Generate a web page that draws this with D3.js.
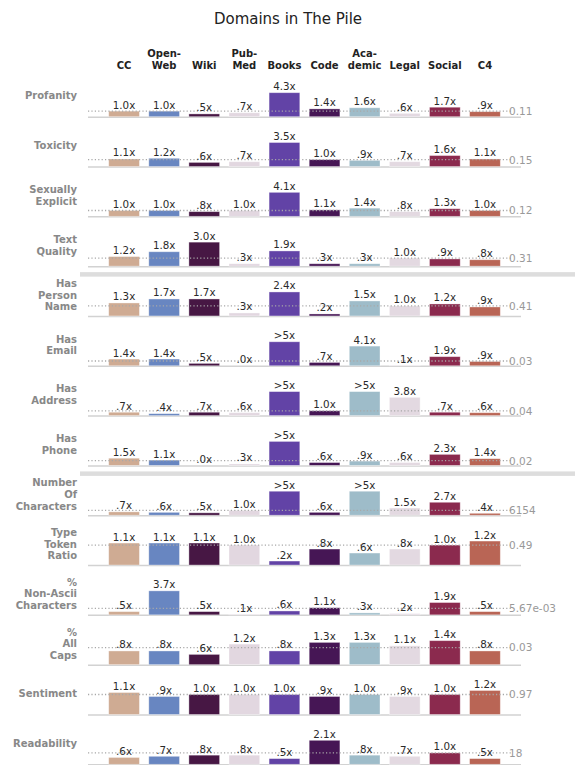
<!DOCTYPE html>
<html>
<head>
<meta charset="utf-8">
<script src="https://cdn.jsdelivr.net/npm/d3@7"></script>
<style>
  body { margin: 0; background: #fff; }
  svg { font-family: "DejaVu Sans", sans-serif; }
</style>
</head>
<body>
<svg id="chart" width="575" height="765"></svg>
<script>
// columns (two-line headers split on the newline)
var domains = ["CC", "Open-\nWeb", "Wiki", "Pub-\nMed", "Books", "Code", "Aca-\ndemic", "Legal", "Social", "C4"];
var domainColors = ["#cfab93", "#6886c1", "#471744", "#e2d7e0", "#6243a6", "#461655", "#9ebcc9", "#e3d9e1", "#8b2a4e", "#b96555"];

var metrics = ["Profanity", "Toxicity", "Sexually\nExplicit", "Text\nQuality",
  "Has\nPerson\nName", "Has\nEmail", "Has\nAddress", "Has\nPhone",
  "Number\nOf\nCharacters", "Type\nToken\nRatio", "%\nNon-Ascii\nCharacters", "%\nAll\nCaps",
  "Sentiment", "Readability"];

// reference value of the whole pile (right side)
var baseLabels = ["0.11", "0.15", "0.12", "0.31", "0.41", "0.03", "0.04", "0.02", "6154", "0.49", "5.67e-03", "0.03", "0.97", "18"];

// ratio of each domain vs. the pile, one array per metric. values above 5 are shown as >5x
var profanity = [1.0, 1.0, 0.5, 0.7, 4.3, 1.4, 1.6, 0.6, 1.7, 0.9];
var toxicity = [1.1, 1.2, 0.6, 0.7, 3.5, 1.0, 0.9, 0.7, 1.6, 1.1];
var sexuallyExplicit = [1.0, 1.0, 0.8, 1.0, 4.1, 1.1, 1.4, 0.8, 1.3, 1.0];
var textQuality = [1.2, 1.8, 3.0, 0.3, 1.9, 0.3, 0.3, 1.0, 0.9, 0.8];
var hasPersonName = [1.3, 1.7, 1.7, 0.3, 2.4, 0.2, 1.5, 1.0, 1.2, 0.9];
var hasEmail = [1.4, 1.4, 0.5, 0.0, 6.0, 0.7, 4.1, 0.1, 1.9, 0.9];
var hasAddress = [0.7, 0.4, 0.7, 0.6, 6.0, 1.0, 6.0, 3.8, 0.7, 0.6];
var hasPhone = [1.5, 1.1, 0.0, 0.3, 6.0, 0.6, 0.9, 0.6, 2.3, 1.4];
var numChars = [0.7, 0.6, 0.5, 1.0, 6.0, 0.6, 6.0, 1.5, 2.7, 0.4];
var typeToken = [1.1, 1.1, 1.1, 1.0, 0.2, 0.8, 0.6, 0.8, 1.0, 1.2];
var nonAscii = [0.5, 3.7, 0.5, 0.1, 0.6, 1.1, 0.3, 0.2, 1.9, 0.5];
var allCaps = [0.8, 0.8, 0.6, 1.2, 0.8, 1.3, 1.3, 1.1, 1.4, 0.8];
var sentiment = [1.1, 0.9, 1.0, 1.0, 1.0, 0.9, 1.0, 0.9, 1.0, 1.2];
var readability = [0.6, 0.7, 0.8, 0.8, 0.5, 2.1, 0.8, 0.7, 1.0, 0.5];

var ratios = [profanity, toxicity, sexuallyExplicit, textQuality, hasPersonName, hasEmail,
  hasAddress, hasPhone, numChars, typeToken, nonAscii, allCaps, sentiment, readability];

// group breaks come after these rows
var groupEnds = [3, 7];

var CAP = 5;
var svg = d3.select('#chart');

var x = d3.scaleBand()
  .domain(d3.range(domains.length))
  .range([104, 505])
  .paddingInner(0.234)
  .paddingOuter(0.117);

var rowY = d3.scaleLinear().domain([0, metrics.length - 1]).range([116.7, 764.3]);

function fmt(v){
  if (v > CAP) return '>5x';
  var s = v.toFixed(1);
  if (s.charAt(0) === '0') s = s.substring(1);
  return s + 'x';
}

// title
svg.append('text')
  .attr('x', 288)
  .attr('y', 24)
  .attr('text-anchor', 'middle')
  .attr('font-size', 15)
  .attr('fill', '#222')
  .text('Domains in The Pile');

// column headers
var head = svg.append('g');
domains.forEach(function(d, i){
  var lines = d.split('\n');
  var t = head.append('text')
    .attr('text-anchor', 'middle')
    .attr('font-size', 10)
    .attr('font-weight', 'bold')
    .attr('fill', '#222');
  lines.forEach(function(l, k){
    t.append('tspan')
      .attr('x', x(i) + x.bandwidth() / 2)
      .attr('y', 69.3 - (lines.length - 1 - k) * 12)
      .text(l);
  });
});

// separators between the groups
groupEnds.forEach(function(r){
  svg.append('rect')
    .attr('x', 80)
    .attr('y', rowY(r) + 6)
    .attr('width', 495)
    .attr('height', 4.5)
    .attr('fill', '#dddddd');
});

metrics.forEach(function(m, r){
  var vals = ratios[r];
  var base = rowY(r);
  var top = Math.min(d3.max(vals), CAP);
  var h = d3.scaleLinear().domain([0, top]).range([0, 24]);
  var g = svg.append('g');

  // row label
  var lines = m.split('\n');
  var lab = g.append('text')
    .attr('text-anchor', 'end')
    .attr('font-size', 10)
    .attr('font-weight', 'bold')
    .attr('fill', '#888');
  lines.forEach(function(l, k){
    lab.append('tspan')
      .attr('x', 77)
      .attr('y', base - 21 + 3.6 + (k - (lines.length - 1) / 2) * 11.7)
      .text(l);
  });

  // baseline
  g.append('line')
    .attr('x1', 88).attr('x2', 521)
    .attr('y1', base + 0.5).attr('y2', base + 0.5)
    .attr('stroke', '#d2d2d2')
    .attr('stroke-width', 1.5);

  // bars
  g.selectAll('rect.bar')
    .data(vals)
    .enter()
    .append('rect')
    .attr('class', 'bar')
    .attr('x', function(d, i){ return x(i); })
    .attr('width', x.bandwidth())
    .attr('y', function(d){ return base - h(Math.min(d, CAP)); })
    .attr('height', function(d){ return h(Math.min(d, CAP)); })
    .attr('fill', function(d, i){ return domainColors[i]; })
    .attr('stroke', 'rgba(255,255,255,0.45)')
    .attr('stroke-width', 0.8);

  // reference line at 1.0x
  g.append('line')
    .attr('x1', 88).attr('x2', 511)
    .attr('y1', base - h(1)).attr('y2', base - h(1))
    .attr('stroke', '#a8a8a8')
    .attr('stroke-width', 1.3)
    .attr('stroke-dasharray', '1.2,2.2');

  // value labels
  g.selectAll('text.val')
    .data(vals)
    .enter()
    .append('text')
    .attr('class', 'val')
    .attr('x', function(d, i){ return x(i) + x.bandwidth() / 2; })
    .attr('y', function(d){ return base - h(Math.min(d, CAP)) - 2.5; })
    .attr('text-anchor', 'middle')
    .attr('font-size', 10.3)
    .attr('fill', '#2a2a2a')
    .text(fmt);

  // pile value on the right
  g.append('text')
    .attr('x', 509)
    .attr('y', base - h(1) + 3.9)
    .attr('font-size', 10.5)
    .attr('fill', '#999')
    .text(baseLabels[r]);
});
</script>
</body>
</html>
